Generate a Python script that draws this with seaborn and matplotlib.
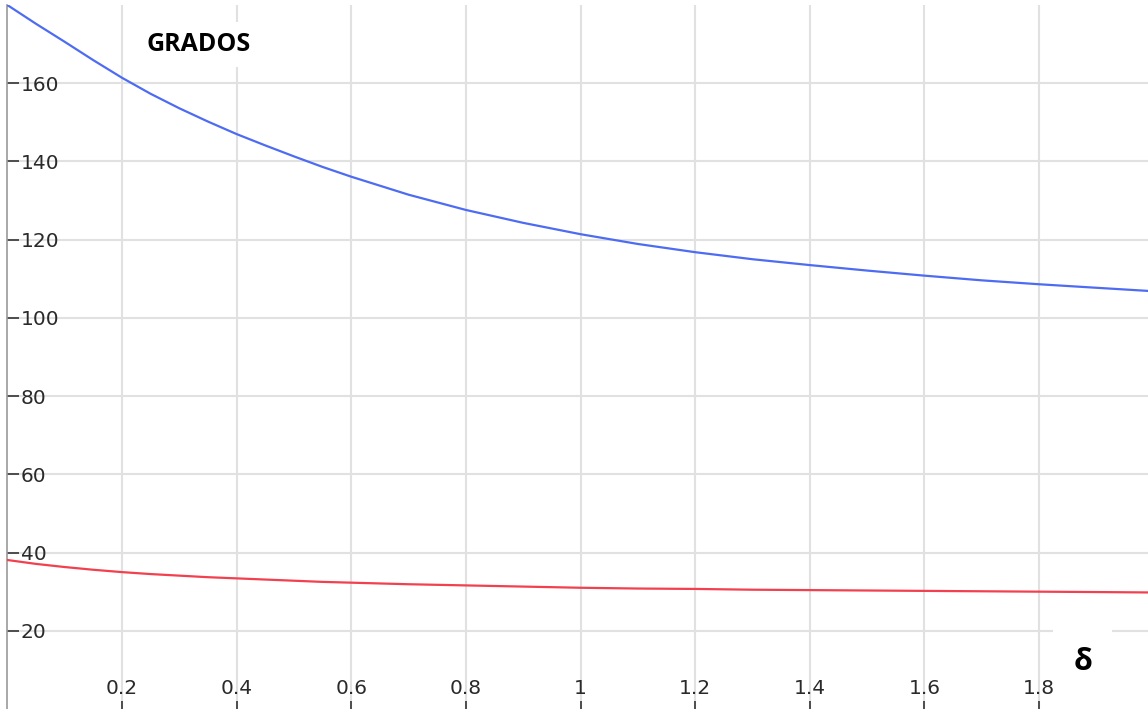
import numpy as np
import pandas as pd
import matplotlib
matplotlib.use("Agg")
import matplotlib.pyplot as plt
import seaborn as sns

# Angle curves (degrees) as a function of delta
delta = [0.0, 0.05, 0.1, 0.15, 0.2, 0.25, 0.3, 0.35, 0.4, 0.45, 0.5, 0.55, 0.6,
         0.7, 0.8, 0.9, 1.0, 1.1, 1.2, 1.3, 1.4, 1.5, 1.6, 1.7, 1.8, 1.9, 1.99]
angle_upper = [180.0, 175.2, 170.6, 165.9, 161.4, 157.3, 153.6, 150.2, 147.0, 144.1,
               141.3, 138.6, 136.1, 131.5, 127.6, 124.3, 121.4, 118.9, 116.8, 115.0,
               113.5, 112.1, 110.8, 109.6, 108.6, 107.7, 106.9]
angle_lower = [38.1, 37.1, 36.3, 35.6, 35.0, 34.5, 34.1, 33.7, 33.4, 33.1,
               32.8, 32.5, 32.3, 31.9, 31.6, 31.3, 31.0, 30.8, 30.7, 30.5,
               30.4, 30.3, 30.2, 30.1, 30.0, 29.9, 29.8]

x_ticks = [0.2, 0.4, 0.6, 0.8, 1.0, 1.2, 1.4, 1.6, 1.8]
x_tick_labels = ["0.2", "0.4", "0.6", "0.8", "1", "1.2", "1.4", "1.6", "1.8"]
y_ticks = [20, 40, 60, 80, 100, 120, 140, 160]
y_tick_labels = ["20", "40", "60", "80", "100", "120", "140", "160"]

df = pd.DataFrame({
    "delta": delta * 2,
    "angle": angle_upper + angle_lower,
    "curve": ["upper"] * len(delta) + ["lower"] * len(delta),
})

sns.set_theme(style="whitegrid")
plt.rcParams["font.family"] = ["DejaVu Sans"]

fig = plt.figure(figsize=(11.48, 7.09), dpi=100)
ax = fig.add_axes([7.3 / 1148, 0.0, 1 - 7.3 / 1148, 704 / 709])

sns.lineplot(data=df, x="delta", y="angle", hue="curve",
             palette={"upper": "#4e6cf2", "lower": "#f2404e"},
             linewidth=1.6, legend=False, ax=ax, zorder=3)

ax.set_xlim(0, 1.99)
ax.set_ylim(0, 180)
ax.set_xlabel("")
ax.set_ylabel("")
ax.set_facecolor("white")

ax.grid(True, color="#e1e1e1", linewidth=1.5)
for side in ["top", "right", "bottom"]:
    ax.spines[side].set_visible(False)
ax.spines["left"].set_color("#9a9a9a")
ax.spines["left"].set_linewidth(1.2)

ax.set_xticks(x_ticks)
ax.set_xticklabels(x_tick_labels)
ax.set_yticks(y_ticks)
ax.set_yticklabels(y_tick_labels)

ax.tick_params(axis="y", direction="in", length=8.5, width=1.2, color="#333333",
               labelsize=14.5, labelcolor="#2a2a2a", pad=-9.8, left=True)
ax.tick_params(axis="x", direction="in", length=6.0, width=1.2, color="#333333",
               labelsize=14.5, labelcolor="#2a2a2a", pad=-10.8, bottom=True)
for lab in ax.get_yticklabels():
    lab.set_horizontalalignment("left")
for lab in ax.get_xticklabels():
    lab.set_verticalalignment("baseline")

ax.text(0.334, 169.8, "GRADOS", fontsize=18, fontweight="bold", family="Open Sans",
        color="black", ha="center", va="center", zorder=4,
        bbox=dict(boxstyle="square,pad=0.4", facecolor="white", edgecolor="none"))
ax.text(1.876, 12.0, "δ", fontsize=22, fontweight="bold", family="Open Sans",
        color="black", ha="center", va="center", zorder=4,
        bbox=dict(boxstyle="square,pad=0.65", facecolor="white", edgecolor="none"))

fig.savefig("out.png", dpi=100, facecolor="white")
